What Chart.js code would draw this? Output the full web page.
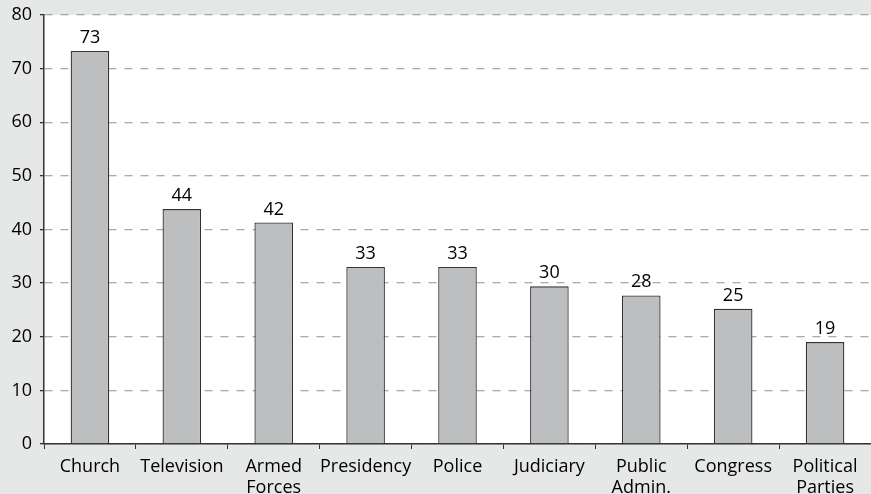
<!DOCTYPE html>
<html>
<head>
<meta charset="utf-8">
<script src="https://cdn.jsdelivr.net/npm/chart.js@4/dist/chart.umd.min.js"></script>
<style>
html,body{margin:0;padding:0;background:#e6e7e7;}
canvas{display:block;}
</style>
</head>
<body>
<canvas id="c" width="871" height="494"></canvas>
<script>
const categories = [["Church"],["Television"],["Armed","Forces"],["Presidency"],["Police"],["Judiciary"],["Public","Admin."],["Congress"],["Political","Parties"]];
const values = [73.3, 43.8, 41.3, 33, 33, 29.4, 27.7, 25.2, 19];
const valueLabels = ["73","44","42","33","33","30","28","25","19"];
const yTicks = [0,10,20,30,40,50,60,70,80];

const FONT = "'Open Sans', 'Noto Sans', sans-serif";

const bgPlugin = {
  id: 'bg',
  beforeDraw(chart) {
    const {ctx, chartArea: a} = chart;
    ctx.save();
    ctx.fillStyle = '#e6e7e7';
    ctx.fillRect(0, 0, chart.width, chart.height);
    ctx.fillStyle = '#ffffff';
    ctx.fillRect(a.left, a.top, a.right - a.left, a.bottom - a.top);
    ctx.restore();
  }
};

const labelPlugin = {
  id: 'vlabels',
  afterDatasetsDraw(chart) {
    const {ctx} = chart;
    const meta = chart.getDatasetMeta(0);
    ctx.save();
    ctx.fillStyle = '#000000';
    ctx.font = '18px ' + FONT;
    ctx.textAlign = 'center';
    ctx.textBaseline = 'alphabetic';
    meta.data.forEach((bar, i) => {
      ctx.fillText(valueLabels[i], bar.x, bar.y - 8);
    });
    ctx.restore();
  }
};

new Chart(document.getElementById('c'), {
  type: 'bar',
  data: {
    labels: categories,
    datasets: [{
      data: values,
      backgroundColor: '#bdbec0',
      borderColor: '#333333',
      borderWidth: 1.3,
      categoryPercentage: 1,
      barPercentage: 0.42
    }]
  },
  options: {
    responsive: false,
    animation: false,
    devicePixelRatio: 1,
    layout: {padding: {top: 0, right: 0, left: 0, bottom: 0}},
    plugins: {legend: {display: false}, tooltip: {enabled: false}},
    scales: {
      x: {
        grid: {
          drawOnChartArea: false,
          drawTicks: true,
          tickLength: 5,
          tickColor: '#333333',
          offset: true
        },
        border: {display: true, color: '#333333', width: 1.5},
        ticks: {
          color: '#000000',
          font: {family: FONT, size: 18, lineHeight: 1.15},
          padding: 8,
          maxRotation: 0,
          autoSkip: false
        },
        afterFit(scale) { scale.height = 50; }
      },
      y: {
        min: 0,
        max: 80,
        afterBuildTicks(scale) { scale.ticks = yTicks.map(v => ({value: v})); },
        grid: {
          color: '#aaaaaa',
          lineWidth: 1.3,
          drawTicks: true,
          tickLength: 4,
          tickColor: '#333333',
          tickBorderDash: []
        },
        border: {display: true, color: '#333333', width: 1.5, dash: [8, 8]},
        ticks: {
          color: '#000000',
          font: {family: FONT, size: 18},
          padding: 8
        },
        afterFit(scale) { scale.width = 44; scale.paddingTop = 15; }
      }
    }
  },
  plugins: [bgPlugin, labelPlugin]
});
</script>
</body>
</html>
